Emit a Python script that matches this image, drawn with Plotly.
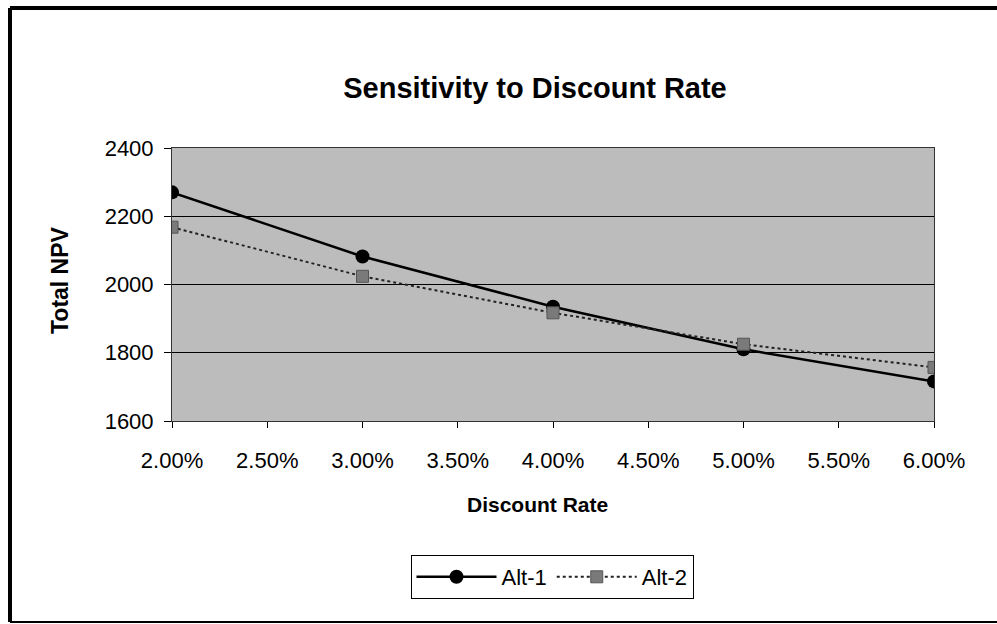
import plotly.graph_objects as go

# Discount rate scenarios and resulting total NPV for each alternative
discount_rates = [0.02, 0.03, 0.04, 0.05, 0.06]
alt1_npv = [2270, 2082, 1935, 1810, 1716]
alt2_npv = [2168, 2024, 1917, 1825, 1757]

y_ticks = [1600, 1800, 2000, 2200, 2400]
x_ticks = [0.02, 0.025, 0.03, 0.035, 0.04, 0.045, 0.05, 0.055, 0.06]

W, H = 997, 624
L, R, T, B = 172, 63, 148, 203
pw, ph = W - L - R, H - T - B


def px_to_paper_x(px):
    return (px - L) / pw


def px_to_paper_y(py):
    return (H - B - py) / ph


FONT = "Liberation Sans, Arial, sans-serif"

fig = go.Figure()

fig.add_trace(go.Scatter(
    x=discount_rates, y=alt1_npv, name="Alt-1", mode="lines+markers",
    line=dict(color="black", width=2.5),
    marker=dict(symbol="circle", size=14, color="black"),
))
fig.add_trace(go.Scatter(
    x=discount_rates, y=alt2_npv, name="Alt-2", mode="lines+markers",
    line=dict(color="#222222", width=2, dash="dot"),
    marker=dict(symbol="square", size=12, color="#7a7a7a",
                line=dict(color="#555555", width=1)),
))

shapes = [
    # outer chart frame (left, top, bottom)
    dict(type="line", xref="paper", yref="paper",
         x0=px_to_paper_x(10), x1=px_to_paper_x(10),
         y0=px_to_paper_y(8), y1=px_to_paper_y(622),
         line=dict(color="black", width=4)),
    dict(type="line", xref="paper", yref="paper",
         x0=px_to_paper_x(10), x1=px_to_paper_x(997),
         y0=px_to_paper_y(8), y1=px_to_paper_y(8),
         line=dict(color="black", width=4)),
    dict(type="line", xref="paper", yref="paper",
         x0=px_to_paper_x(10), x1=px_to_paper_x(997),
         y0=px_to_paper_y(622), y1=px_to_paper_y(622),
         line=dict(color="black", width=2)),
]

annotations = [
    dict(text="<b>Discount Rate</b>", xref="paper", yref="paper",
         x=px_to_paper_x(537), y=px_to_paper_y(504),
         xanchor="center", yanchor="middle", showarrow=False,
         font=dict(family=FONT, size=21, color="black")),
    dict(text="<b>Total NPV</b>", xref="paper", yref="paper",
         x=px_to_paper_x(60), y=px_to_paper_y(280), textangle=-90,
         xanchor="center", yanchor="middle", showarrow=False,
         font=dict(family=FONT, size=23, color="black")),
]

fig.update_layout(
    width=W, height=H,
    margin=dict(l=L, r=R, t=T, b=B),
    paper_bgcolor="white",
    plot_bgcolor="#bcbcbc",
    font=dict(family=FONT, color="black"),
    title=dict(text="<b>Sensitivity to Discount Rate</b>",
               xref="container", x=535 / W, xanchor="center",
               yref="container", y=1 - 88 / H, yanchor="middle",
               font=dict(family=FONT, size=29, color="black")),
    showlegend=True,
    legend=dict(orientation="h", xref="paper", yref="paper",
                x=px_to_paper_x(552), y=px_to_paper_y(555),
                xanchor="center", yanchor="top",
                bordercolor="black", borderwidth=1, bgcolor="white",
                itemwidth=80,
                font=dict(family=FONT, size=22, color="black")),
    xaxis=dict(range=[0.02, 0.06], tickvals=x_ticks, tickformat=".2%",
               showgrid=False, zeroline=False,
               ticks="outside", ticklen=6, tickcolor="black",
               ticklabelstandoff=14,
               showline=True, linecolor="#333333", linewidth=1,
               mirror=True,
               tickfont=dict(family=FONT, size=22, color="black")),
    yaxis=dict(range=[1600, 2400], tickvals=y_ticks,
               showgrid=True, gridcolor="black", gridwidth=1,
               zeroline=False,
               ticks="outside", ticklen=7, tickcolor="black",
               ticklabelstandoff=6,
               showline=True, linecolor="#333333", linewidth=1,
               mirror=True,
               tickfont=dict(family=FONT, size=22, color="black")),
    shapes=shapes,
    annotations=annotations,
)

fig.write_html("out.html")
